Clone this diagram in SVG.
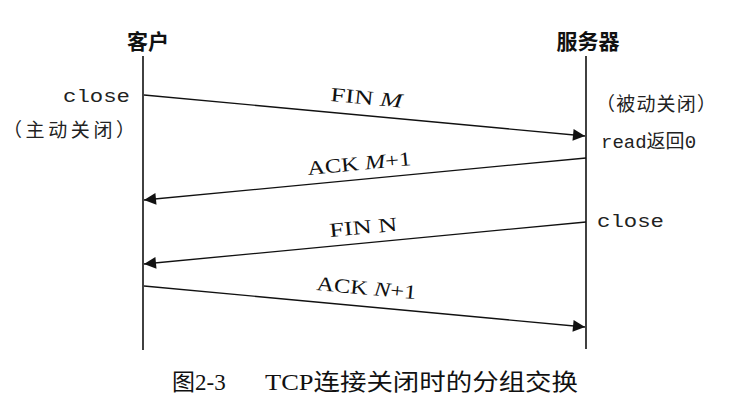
<svg xmlns="http://www.w3.org/2000/svg" width="740" height="401" viewBox="0 0 740 401">
<style>
.life{stroke:#111;stroke-width:1.6;fill:none}
.msg{stroke:#111;stroke-width:1.3;fill:none}
.head{font-family:"Noto Sans CJK SC",sans-serif;font-weight:bold;font-size:21px;fill:#111}
.mono{font-family:"Liberation Mono",monospace;font-size:19px;fill:#222}
.cjk{font-family:"Noto Sans CJK SC",sans-serif;font-size:19px;fill:#222}
.lbl{font-family:"Liberation Serif",serif;font-size:20px;fill:#111}
.cap{font-family:"Liberation Serif","Noto Sans CJK SC",serif;font-size:23px;fill:#111}
</style>
<defs>
<marker id="ah" viewBox="0 0 10 10" refX="10" refY="5" markerWidth="24" markerHeight="12" markerUnits="userSpaceOnUse" orient="auto">
<path d="M0,0 L10,5 L0,10 z" fill="#111"/>
</marker>
</defs>
<g id="client">
<text class="head" x="148" y="49" text-anchor="middle">客户</text>
<line class="life" x1="143" y1="56" x2="143" y2="350"/>
<text class="mono" x="63" y="102" textLength="67" lengthAdjust="spacingAndGlyphs">close</text>
<text class="cjk" x="3" y="137" textLength="132" lengthAdjust="spacing">（主动关闭）</text>
</g>
<g id="server">
<text class="head" x="588" y="49" text-anchor="middle">服务器</text>
<line class="life" x1="586" y1="56" x2="586" y2="349"/>
<text class="cjk" x="596" y="111" textLength="120" lengthAdjust="spacing">（被动关闭）</text>
<text class="mono" x="601" y="148">read<tspan class="cjk">返回</tspan>0</text>
<text class="mono" x="597" y="227" textLength="67" lengthAdjust="spacingAndGlyphs">close</text>
</g>
<g id="connectors">
<line class="msg" x1="144" y1="95" x2="585" y2="136" marker-end="url(#ah)"/>
<line class="msg" x1="586" y1="158" x2="144" y2="200" marker-end="url(#ah)"/>
<line class="msg" x1="586" y1="222" x2="144" y2="264" marker-end="url(#ah)"/>
<line class="msg" x1="144" y1="286" x2="585" y2="327" marker-end="url(#ah)"/>
<text class="lbl" transform="translate(330,101) rotate(5.3)" textLength="72" lengthAdjust="spacingAndGlyphs">FIN <tspan font-style="italic">M</tspan></text>
<text class="lbl" transform="translate(308,175) rotate(-5.4)" textLength="104" lengthAdjust="spacingAndGlyphs">ACK <tspan font-style="italic">M</tspan>+1</text>
<text class="lbl" transform="translate(330,237) rotate(-5.4)" textLength="68" lengthAdjust="spacingAndGlyphs">FIN N</text>
<text class="lbl" transform="translate(316,290) rotate(5.3)" textLength="100" lengthAdjust="spacingAndGlyphs">ACK <tspan font-style="italic">N</tspan>+1</text>
</g>
<text class="cap" x="172" y="390">图2-3</text>
<text class="cap" x="265" y="390" textLength="313" lengthAdjust="spacingAndGlyphs">TCP连接关闭时的分组交换</text>
</svg>
